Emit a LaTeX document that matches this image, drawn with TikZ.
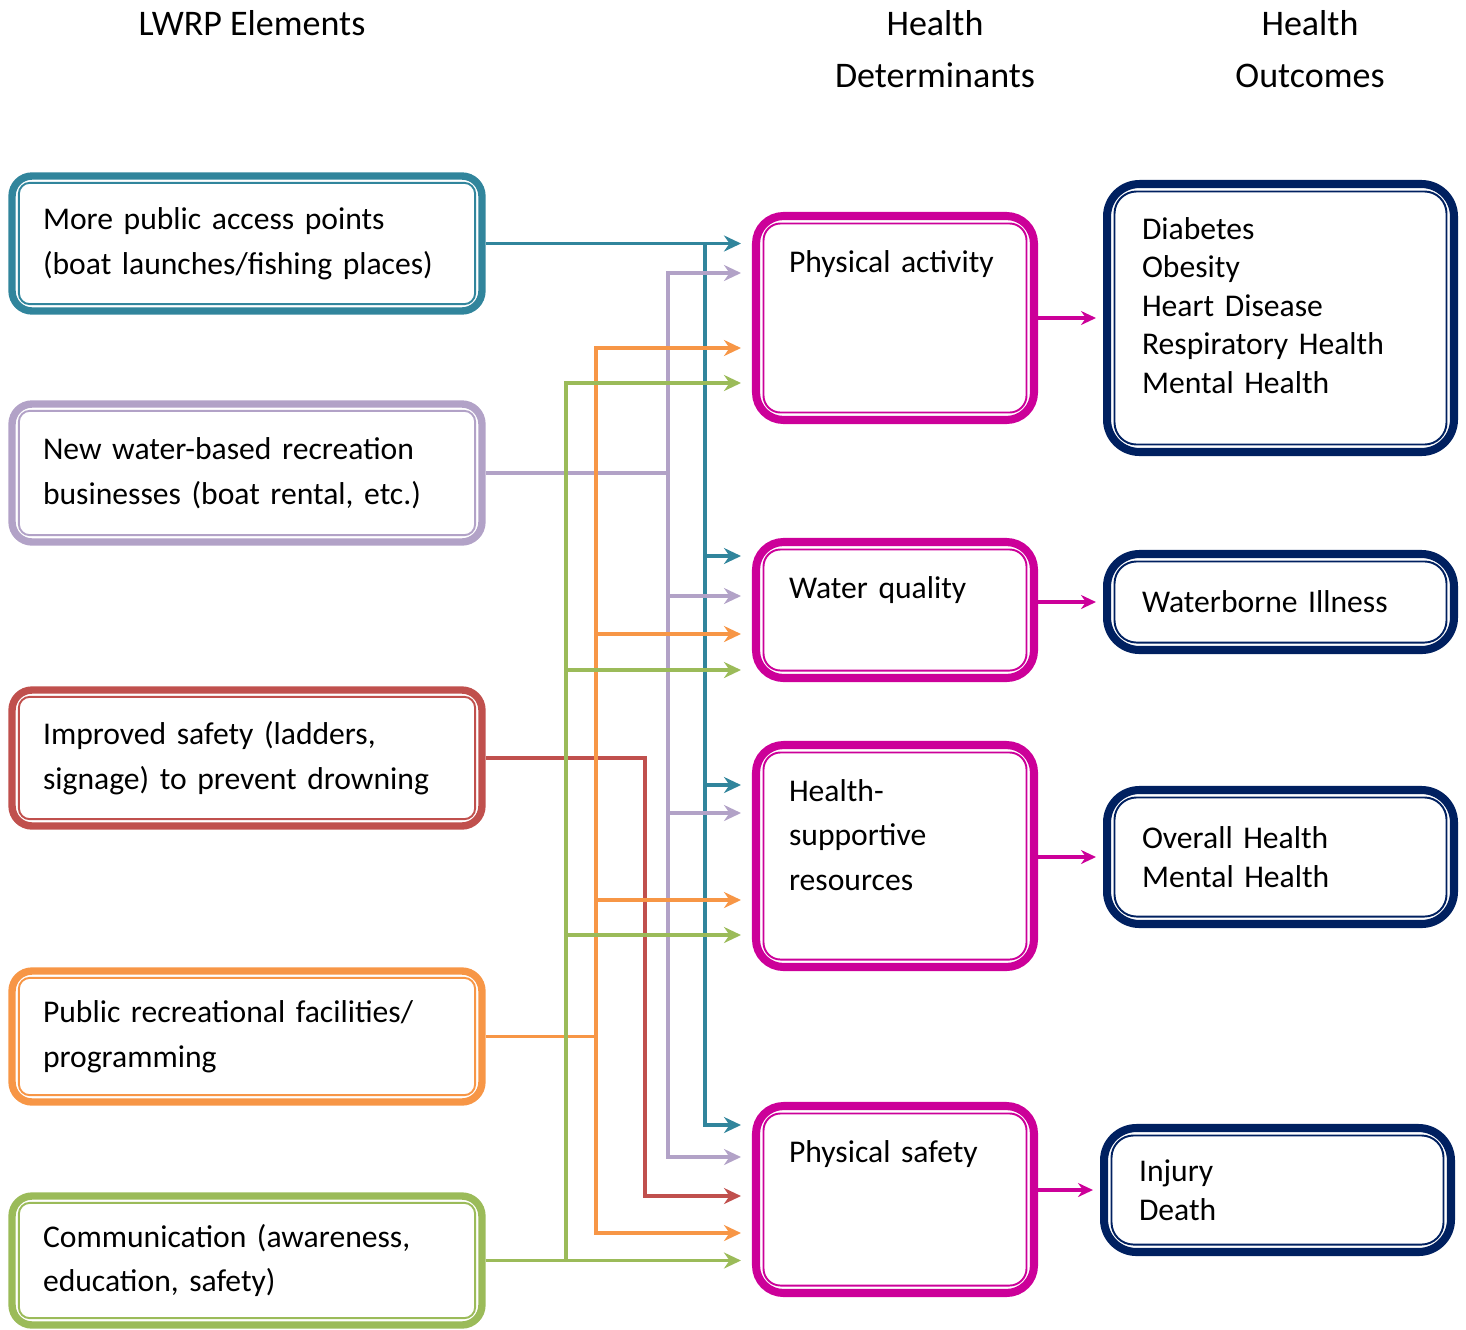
\documentclass[tikz,border=0pt]{standalone}
\usepackage{fontspec}
\setmainfont{Carlito}
\usepackage{tikz}
\usetikzlibrary{arrows.meta}
\usepackage{xcolor}
\definecolor{tea}{RGB}{49,133,156}
\definecolor{lil}{RGB}{178,162,199}
\definecolor{brk}{RGB}{192,80,77}
\definecolor{org}{RGB}{247,150,70}
\definecolor{grn}{RGB}{155,187,89}
\definecolor{mag}{RGB}{204,0,153}
\definecolor{nvy}{RGB}{0,32,96}

\begin{document}
\begin{tikzpicture}[x=0.02cm, y=-0.02cm,
  frame/.style={draw=#1, line width=4.2pt, align=left},
  rim/.style={draw=#1, line width=1.1pt},
  elem/.style={frame=#1, rounded corners=4mm, minimum width=9.4cm,
    text width=8.16cm, inner xsep=6.2mm, font=\fontsize{18}{25.5}\selectfont},
  det/.style={frame=mag, line width=4.6pt, rounded corners=5.5mm, minimum width=5.56cm,
    text width=4.24cm, inner xsep=6.6mm, inner ysep=7mm, text height=4.2mm,
    text depth=#1, font=\fontsize{18}{25.5}\selectfont},
  outc/.style={frame=nvy, line width=4.6pt, rounded corners=6.5mm, minimum width=6.94cm,
    text width=5.54cm, inner xsep=7mm, font=\fontsize{18}{22}\selectfont},
  hdr/.style={align=center, font=\fontsize{20.5}{29.5}\selectfont},
  link/.style={line width=2pt},
  arr/.style={link, -{Stealth[length=3.4mm,width=3.2mm]}, shorten >=2.2mm},
  arr2/.style={arr, {Stealth[length=3.4mm,width=3.2mm]}-{Stealth[length=3.4mm,width=3.2mm]}, shorten <=2.2mm},
  oarr/.style={line width=1.8pt, mag, -{Stealth[length=3mm,width=2.8mm]}, shorten >=1.4mm}]
\useasboundingbox (0,0) rectangle (1466,1329);

\node[hdr] (h1) at (252,23) {LWRP Elements};
\node[hdr] (h2) at (935,49) {Health\\Determinants};
\node[hdr] (h3) at (1310,49) {Health\\Outcomes};

\node[elem=tea, minimum height=2.7cm] (acc) at (247,243.5) {More public access points\\(boat launches/fishing places)};
\node[elem=lil, minimum height=2.76cm] (rec) at (247,473) {New water-based recreation\\businesses (boat rental, etc.)};
\node[elem=brk, minimum height=2.72cm] (saf) at (247,758) {Improved safety (ladders,\\signage) to prevent drowning};
\node[elem=org, minimum height=2.62cm] (fac) at (247,1036.5) {Public recreational facilities/\\programming};
\node[elem=grn, minimum height=2.58cm] (com) at (247,1260.5) {Communication (awareness,\\education, safety)};

\node[det=2.26cm] (pa) at (895,318) {Physical activity};
\node[det=0.9cm] (wq) at (895,610) {Water quality};
\node[det=2.62cm] (hs) at (895,856) {Health-\\supportive\\resources};
\node[det=1.92cm] (ps) at (895,1199.5) {Physical safety};

\node[outc, minimum height=5.36cm, text depth=3.6cm] (dia) at (1280.5,318) {Diabetes\\Obesity\\Heart Disease\\Respiratory Health\\Mental Health};
\node[outc, minimum height=1.92cm] (wb) at (1280.5,602) {Waterborne Illness};
\node[outc, minimum height=2.68cm] (oh) at (1280.5,857) {Overall Health\\Mental Health};
\node[outc, minimum height=2.48cm] (inj) at (1277.5,1190) {Injury\\Death};

\foreach \n/\col/\r/\s in {acc/tea/2.2mm/2.1mm, rec/lil/2.2mm/2.1mm, saf/brk/2.2mm/2.1mm,
    fac/org/2.2mm/2.1mm, com/grn/2.2mm/2.1mm,
    pa/mag/3.4mm/2.3mm, wq/mag/3.4mm/2.3mm, hs/mag/3.4mm/2.3mm, ps/mag/3.4mm/2.3mm,
    dia/nvy/4.4mm/2.3mm, wb/nvy/4.4mm/2.3mm, oh/nvy/4.4mm/2.3mm, inj/nvy/4.4mm/2.3mm}
  \draw[rim=\col, rounded corners=\r] ([shift={(\s,\s)}]\n.south west) rectangle ([shift={(-\s,-\s)}]\n.north east);

\coordinate (ta) at (705,556); \coordinate (tb) at (705,785); \coordinate (tc) at (705,1125);
\draw[arr,tea] (acc.east) -- (acc.east -| pa.west);
\draw[arr,tea] (acc.east -| ta) |- (tc -| ps.west);
\draw[arr,tea] (ta) -- (ta -| wq.west);
\draw[arr,tea] (tb) -- (tb -| hs.west);

\coordinate (la) at (668,273); \coordinate (lb) at (668,596); \coordinate (lc) at (668,813); \coordinate (ld) at (668,1157);
\draw[link,lil] (rec.east) -- (rec.east -| la);
\draw[arr2,lil] (la -| pa.west) -- (la) |- (ld -| ps.west);
\draw[arr,lil] (lb) -- (lb -| wq.west);
\draw[arr,lil] (lc) -- (lc -| hs.west);

\coordinate (ra) at (645,1196);
\draw[arr,brk] (saf.east) -| (ra) -- (ra -| ps.west);

\coordinate (oa) at (596,348); \coordinate (ob) at (596,634); \coordinate (oc) at (596,900); \coordinate (od) at (596,1233);
\draw[link,org] (fac.east) -- (fac.east -| oa);
\draw[arr2,org] (oa -| pa.west) -- (oa) |- (od -| ps.west);
\draw[arr,org] (ob) -- (ob -| wq.west);
\draw[arr,org] (oc) -- (oc -| hs.west);

\coordinate (ga) at (566,383); \coordinate (gb) at (566,670); \coordinate (gc) at (566,935);
\draw[arr,grn] (com.east) -- (com.east -| ps.west);
\draw[arr,grn] (com.east -| ga) -- (ga) -- (ga -| pa.west);
\draw[arr,grn] (gb) -- (gb -| wq.west);
\draw[arr,grn] (gc) -- (gc -| hs.west);

\draw[oarr] (pa.east |- dia.west) -- (dia.west);
\draw[oarr] (wq.east |- wb.west) -- (wb.west);
\draw[oarr] (hs.east |- oh.west) -- (oh.west);
\draw[oarr] (ps.east |- inj.west) -- (inj.west);
\end{tikzpicture}
\end{document}
